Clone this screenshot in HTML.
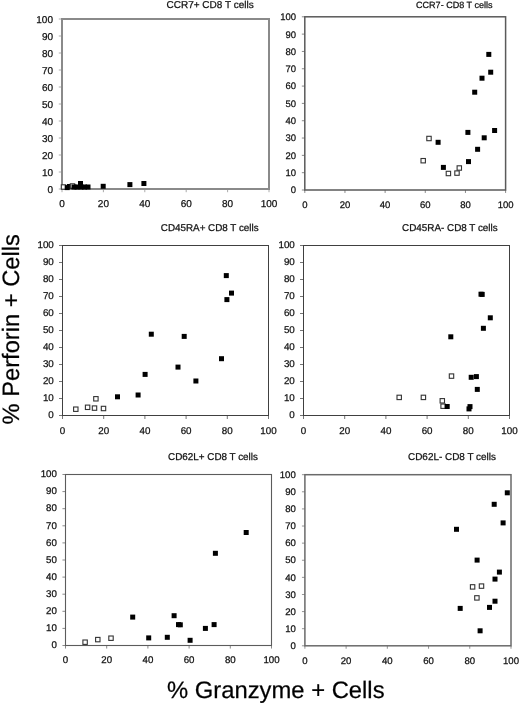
<!DOCTYPE html>
<html><head><meta charset="utf-8"><style>
html,body{margin:0;padding:0;background:#fff;}
body{width:520px;height:704px;overflow:hidden;}
svg{display:block;filter:grayscale(1);text-rendering:geometricPrecision;font-family:"Liberation Sans",sans-serif;fill:#111;}
svg text{fill:#111;stroke:#111;stroke-width:0.25px;}
</style></head><body>
<svg width="520" height="704" viewBox="0 0 520 704">
<rect width="520" height="704" fill="#fff"/>
<rect x="62.0" y="19.0" width="207.00" height="170.00" fill="none" stroke="#8a8a8a" stroke-width="2.0"/>
<line x1="58.80" y1="189.00" x2="62.00" y2="189.00" stroke="#8a8a8a" stroke-width="0.9" opacity="0.8"/>
<line x1="58.80" y1="172.00" x2="62.00" y2="172.00" stroke="#8a8a8a" stroke-width="0.9" opacity="0.8"/>
<line x1="58.80" y1="155.00" x2="62.00" y2="155.00" stroke="#8a8a8a" stroke-width="0.9" opacity="0.8"/>
<line x1="58.80" y1="138.00" x2="62.00" y2="138.00" stroke="#8a8a8a" stroke-width="0.9" opacity="0.8"/>
<line x1="58.80" y1="121.00" x2="62.00" y2="121.00" stroke="#8a8a8a" stroke-width="0.9" opacity="0.8"/>
<line x1="58.80" y1="104.00" x2="62.00" y2="104.00" stroke="#8a8a8a" stroke-width="0.9" opacity="0.8"/>
<line x1="58.80" y1="87.00" x2="62.00" y2="87.00" stroke="#8a8a8a" stroke-width="0.9" opacity="0.8"/>
<line x1="58.80" y1="70.00" x2="62.00" y2="70.00" stroke="#8a8a8a" stroke-width="0.9" opacity="0.8"/>
<line x1="58.80" y1="53.00" x2="62.00" y2="53.00" stroke="#8a8a8a" stroke-width="0.9" opacity="0.8"/>
<line x1="58.80" y1="36.00" x2="62.00" y2="36.00" stroke="#8a8a8a" stroke-width="0.9" opacity="0.8"/>
<line x1="58.80" y1="19.00" x2="62.00" y2="19.00" stroke="#8a8a8a" stroke-width="0.9" opacity="0.8"/>
<line x1="62.00" y1="189.00" x2="62.00" y2="192.20" stroke="#8a8a8a" stroke-width="0.9" opacity="0.8"/>
<line x1="103.40" y1="189.00" x2="103.40" y2="192.20" stroke="#8a8a8a" stroke-width="0.9" opacity="0.8"/>
<line x1="144.80" y1="189.00" x2="144.80" y2="192.20" stroke="#8a8a8a" stroke-width="0.9" opacity="0.8"/>
<line x1="186.20" y1="189.00" x2="186.20" y2="192.20" stroke="#8a8a8a" stroke-width="0.9" opacity="0.8"/>
<line x1="227.60" y1="189.00" x2="227.60" y2="192.20" stroke="#8a8a8a" stroke-width="0.9" opacity="0.8"/>
<line x1="269.00" y1="189.00" x2="269.00" y2="192.20" stroke="#8a8a8a" stroke-width="0.9" opacity="0.8"/>
<text x="53.00" y="192.78" font-size="10.0" text-anchor="end">0</text>
<text x="53.00" y="175.78" font-size="10.0" text-anchor="end">10</text>
<text x="53.00" y="158.78" font-size="10.0" text-anchor="end">20</text>
<text x="53.00" y="141.78" font-size="10.0" text-anchor="end">30</text>
<text x="53.00" y="124.78" font-size="10.0" text-anchor="end">40</text>
<text x="53.00" y="107.78" font-size="10.0" text-anchor="end">50</text>
<text x="53.00" y="90.78" font-size="10.0" text-anchor="end">60</text>
<text x="53.00" y="73.78" font-size="10.0" text-anchor="end">70</text>
<text x="53.00" y="56.78" font-size="10.0" text-anchor="end">80</text>
<text x="53.00" y="39.78" font-size="10.0" text-anchor="end">90</text>
<text x="53.00" y="22.78" font-size="10.0" text-anchor="end">100</text>
<text x="62.00" y="207.30" font-size="10.0" text-anchor="middle">0</text>
<text x="103.40" y="207.30" font-size="10.0" text-anchor="middle">20</text>
<text x="144.80" y="207.30" font-size="10.0" text-anchor="middle">40</text>
<text x="186.20" y="207.30" font-size="10.0" text-anchor="middle">60</text>
<text x="227.60" y="207.30" font-size="10.0" text-anchor="middle">80</text>
<text x="269.00" y="207.30" font-size="10.0" text-anchor="middle">100</text>
<text x="166.5" y="8.3" font-size="10.0">CCR7+ CD8 T cells</text>
<rect x="61.30" y="184.80" width="4.4" height="4.4" fill="#fff" stroke="#333" stroke-width="1.1"/>
<rect x="64.70" y="185.10" width="5" height="5" fill="#000"/>
<rect x="67.00" y="184.00" width="5" height="5" fill="#000"/>
<rect x="70.30" y="183.80" width="4.4" height="4.4" fill="#fff" stroke="#333" stroke-width="1.1"/>
<rect x="71.50" y="184.50" width="5" height="5" fill="#000"/>
<rect x="74.50" y="184.50" width="5" height="5" fill="#000"/>
<rect x="78.00" y="181.00" width="5" height="5" fill="#000"/>
<rect x="78.50" y="184.50" width="5" height="5" fill="#000"/>
<rect x="82.00" y="184.50" width="5" height="5" fill="#000"/>
<rect x="85.50" y="184.50" width="5" height="5" fill="#000"/>
<rect x="100.70" y="183.80" width="5" height="5" fill="#000"/>
<rect x="127.40" y="182.10" width="5" height="5" fill="#000"/>
<rect x="141.40" y="181.00" width="5" height="5" fill="#000"/>
<rect x="304.8" y="16.8" width="200.80" height="173.20" fill="none" stroke="#5a5a5a" stroke-width="1.5"/>
<line x1="301.85" y1="190.00" x2="304.80" y2="190.00" stroke="#5a5a5a" stroke-width="0.9" opacity="0.8"/>
<line x1="301.85" y1="172.68" x2="304.80" y2="172.68" stroke="#5a5a5a" stroke-width="0.9" opacity="0.8"/>
<line x1="301.85" y1="155.36" x2="304.80" y2="155.36" stroke="#5a5a5a" stroke-width="0.9" opacity="0.8"/>
<line x1="301.85" y1="138.04" x2="304.80" y2="138.04" stroke="#5a5a5a" stroke-width="0.9" opacity="0.8"/>
<line x1="301.85" y1="120.72" x2="304.80" y2="120.72" stroke="#5a5a5a" stroke-width="0.9" opacity="0.8"/>
<line x1="301.85" y1="103.40" x2="304.80" y2="103.40" stroke="#5a5a5a" stroke-width="0.9" opacity="0.8"/>
<line x1="301.85" y1="86.08" x2="304.80" y2="86.08" stroke="#5a5a5a" stroke-width="0.9" opacity="0.8"/>
<line x1="301.85" y1="68.76" x2="304.80" y2="68.76" stroke="#5a5a5a" stroke-width="0.9" opacity="0.8"/>
<line x1="301.85" y1="51.44" x2="304.80" y2="51.44" stroke="#5a5a5a" stroke-width="0.9" opacity="0.8"/>
<line x1="301.85" y1="34.12" x2="304.80" y2="34.12" stroke="#5a5a5a" stroke-width="0.9" opacity="0.8"/>
<line x1="301.85" y1="16.80" x2="304.80" y2="16.80" stroke="#5a5a5a" stroke-width="0.9" opacity="0.8"/>
<line x1="304.80" y1="190.00" x2="304.80" y2="192.95" stroke="#5a5a5a" stroke-width="0.9" opacity="0.8"/>
<line x1="344.96" y1="190.00" x2="344.96" y2="192.95" stroke="#5a5a5a" stroke-width="0.9" opacity="0.8"/>
<line x1="385.12" y1="190.00" x2="385.12" y2="192.95" stroke="#5a5a5a" stroke-width="0.9" opacity="0.8"/>
<line x1="425.28" y1="190.00" x2="425.28" y2="192.95" stroke="#5a5a5a" stroke-width="0.9" opacity="0.8"/>
<line x1="465.44" y1="190.00" x2="465.44" y2="192.95" stroke="#5a5a5a" stroke-width="0.9" opacity="0.8"/>
<line x1="505.60" y1="190.00" x2="505.60" y2="192.95" stroke="#5a5a5a" stroke-width="0.9" opacity="0.8"/>
<text x="296.00" y="193.40" font-size="9.5" text-anchor="end">0</text>
<text x="296.00" y="176.08" font-size="9.5" text-anchor="end">10</text>
<text x="296.00" y="158.76" font-size="9.5" text-anchor="end">20</text>
<text x="296.00" y="141.44" font-size="9.5" text-anchor="end">30</text>
<text x="296.00" y="124.12" font-size="9.5" text-anchor="end">40</text>
<text x="296.00" y="106.80" font-size="9.5" text-anchor="end">50</text>
<text x="296.00" y="89.48" font-size="9.5" text-anchor="end">60</text>
<text x="296.00" y="72.16" font-size="9.5" text-anchor="end">70</text>
<text x="296.00" y="54.84" font-size="9.5" text-anchor="end">80</text>
<text x="296.00" y="37.52" font-size="9.5" text-anchor="end">90</text>
<text x="296.00" y="20.20" font-size="9.5" text-anchor="end">100</text>
<text x="304.80" y="207.70" font-size="9.5" text-anchor="middle">0</text>
<text x="344.96" y="207.70" font-size="9.5" text-anchor="middle">20</text>
<text x="385.12" y="207.70" font-size="9.5" text-anchor="middle">40</text>
<text x="425.28" y="207.70" font-size="9.5" text-anchor="middle">60</text>
<text x="465.44" y="207.70" font-size="9.5" text-anchor="middle">80</text>
<text x="505.60" y="207.70" font-size="9.5" text-anchor="middle">100</text>
<text x="416.0" y="8.0" font-size="9.05">CCR7- CD8 T cells</text>
<rect x="486.30" y="51.90" width="5" height="5" fill="#000"/>
<rect x="488.20" y="69.70" width="5" height="5" fill="#000"/>
<rect x="479.50" y="75.70" width="5" height="5" fill="#000"/>
<rect x="472.20" y="89.70" width="5" height="5" fill="#000"/>
<rect x="465.40" y="129.90" width="5" height="5" fill="#000"/>
<rect x="492.10" y="128.00" width="5" height="5" fill="#000"/>
<rect x="481.70" y="135.30" width="5" height="5" fill="#000"/>
<rect x="435.60" y="139.80" width="5" height="5" fill="#000"/>
<rect x="475.10" y="146.80" width="5" height="5" fill="#000"/>
<rect x="466.00" y="159.10" width="5" height="5" fill="#000"/>
<rect x="440.90" y="164.90" width="5" height="5" fill="#000"/>
<rect x="426.80" y="136.30" width="4.4" height="4.4" fill="#fff" stroke="#333" stroke-width="1.1"/>
<rect x="421.00" y="158.50" width="4.4" height="4.4" fill="#fff" stroke="#333" stroke-width="1.1"/>
<rect x="446.20" y="171.30" width="4.4" height="4.4" fill="#fff" stroke="#333" stroke-width="1.1"/>
<rect x="454.80" y="170.90" width="4.4" height="4.4" fill="#fff" stroke="#333" stroke-width="1.1"/>
<rect x="457.10" y="165.80" width="4.4" height="4.4" fill="#fff" stroke="#333" stroke-width="1.1"/>
<rect x="62.5" y="245.5" width="206.00" height="170.00" fill="none" stroke="#404040" stroke-width="1.0"/>
<line x1="59.00" y1="415.50" x2="62.50" y2="415.50" stroke="#404040" stroke-width="0.9" opacity="0.8"/>
<line x1="59.00" y1="398.50" x2="62.50" y2="398.50" stroke="#404040" stroke-width="0.9" opacity="0.8"/>
<line x1="59.00" y1="381.50" x2="62.50" y2="381.50" stroke="#404040" stroke-width="0.9" opacity="0.8"/>
<line x1="59.00" y1="364.50" x2="62.50" y2="364.50" stroke="#404040" stroke-width="0.9" opacity="0.8"/>
<line x1="59.00" y1="347.50" x2="62.50" y2="347.50" stroke="#404040" stroke-width="0.9" opacity="0.8"/>
<line x1="59.00" y1="330.50" x2="62.50" y2="330.50" stroke="#404040" stroke-width="0.9" opacity="0.8"/>
<line x1="59.00" y1="313.50" x2="62.50" y2="313.50" stroke="#404040" stroke-width="0.9" opacity="0.8"/>
<line x1="59.00" y1="296.50" x2="62.50" y2="296.50" stroke="#404040" stroke-width="0.9" opacity="0.8"/>
<line x1="59.00" y1="279.50" x2="62.50" y2="279.50" stroke="#404040" stroke-width="0.9" opacity="0.8"/>
<line x1="59.00" y1="262.50" x2="62.50" y2="262.50" stroke="#404040" stroke-width="0.9" opacity="0.8"/>
<line x1="59.00" y1="245.50" x2="62.50" y2="245.50" stroke="#404040" stroke-width="0.9" opacity="0.8"/>
<line x1="62.50" y1="415.50" x2="62.50" y2="419.00" stroke="#404040" stroke-width="0.9" opacity="0.8"/>
<line x1="103.70" y1="415.50" x2="103.70" y2="419.00" stroke="#404040" stroke-width="0.9" opacity="0.8"/>
<line x1="144.90" y1="415.50" x2="144.90" y2="419.00" stroke="#404040" stroke-width="0.9" opacity="0.8"/>
<line x1="186.10" y1="415.50" x2="186.10" y2="419.00" stroke="#404040" stroke-width="0.9" opacity="0.8"/>
<line x1="227.30" y1="415.50" x2="227.30" y2="419.00" stroke="#404040" stroke-width="0.9" opacity="0.8"/>
<line x1="268.50" y1="415.50" x2="268.50" y2="419.00" stroke="#404040" stroke-width="0.9" opacity="0.8"/>
<text x="53.80" y="418.21" font-size="9.8" text-anchor="end">0</text>
<text x="53.80" y="401.21" font-size="9.8" text-anchor="end">10</text>
<text x="53.80" y="384.21" font-size="9.8" text-anchor="end">20</text>
<text x="53.80" y="367.21" font-size="9.8" text-anchor="end">30</text>
<text x="53.80" y="350.21" font-size="9.8" text-anchor="end">40</text>
<text x="53.80" y="333.21" font-size="9.8" text-anchor="end">50</text>
<text x="53.80" y="316.21" font-size="9.8" text-anchor="end">60</text>
<text x="53.80" y="299.21" font-size="9.8" text-anchor="end">70</text>
<text x="53.80" y="282.21" font-size="9.8" text-anchor="end">80</text>
<text x="53.80" y="265.21" font-size="9.8" text-anchor="end">90</text>
<text x="53.80" y="248.21" font-size="9.8" text-anchor="end">100</text>
<text x="62.50" y="433.50" font-size="9.8" text-anchor="middle">0</text>
<text x="103.70" y="433.50" font-size="9.8" text-anchor="middle">20</text>
<text x="144.90" y="433.50" font-size="9.8" text-anchor="middle">40</text>
<text x="186.10" y="433.50" font-size="9.8" text-anchor="middle">60</text>
<text x="227.30" y="433.50" font-size="9.8" text-anchor="middle">80</text>
<text x="268.50" y="433.50" font-size="9.8" text-anchor="middle">100</text>
<text x="160.8" y="231.2" font-size="9.85">CD45RA+ CD8 T cells</text>
<rect x="223.80" y="273.10" width="5" height="5" fill="#000"/>
<rect x="229.00" y="290.60" width="5" height="5" fill="#000"/>
<rect x="224.40" y="297.10" width="5" height="5" fill="#000"/>
<rect x="148.80" y="331.70" width="5" height="5" fill="#000"/>
<rect x="181.70" y="333.90" width="5" height="5" fill="#000"/>
<rect x="219.00" y="356.20" width="5" height="5" fill="#000"/>
<rect x="175.50" y="364.60" width="5" height="5" fill="#000"/>
<rect x="142.60" y="371.90" width="5" height="5" fill="#000"/>
<rect x="193.40" y="378.50" width="5" height="5" fill="#000"/>
<rect x="135.60" y="392.50" width="5" height="5" fill="#000"/>
<rect x="115.00" y="394.30" width="5" height="5" fill="#000"/>
<rect x="73.60" y="407.00" width="4.4" height="4.4" fill="#fff" stroke="#333" stroke-width="1.1"/>
<rect x="85.40" y="405.10" width="4.4" height="4.4" fill="#fff" stroke="#333" stroke-width="1.1"/>
<rect x="92.30" y="405.90" width="4.4" height="4.4" fill="#fff" stroke="#333" stroke-width="1.1"/>
<rect x="101.30" y="406.30" width="4.4" height="4.4" fill="#fff" stroke="#333" stroke-width="1.1"/>
<rect x="93.70" y="396.60" width="4.4" height="4.4" fill="#fff" stroke="#333" stroke-width="1.1"/>
<rect x="303.5" y="245.5" width="206.00" height="170.00" fill="none" stroke="#404040" stroke-width="1.0"/>
<line x1="300.00" y1="415.50" x2="303.50" y2="415.50" stroke="#404040" stroke-width="0.9" opacity="0.8"/>
<line x1="300.00" y1="398.50" x2="303.50" y2="398.50" stroke="#404040" stroke-width="0.9" opacity="0.8"/>
<line x1="300.00" y1="381.50" x2="303.50" y2="381.50" stroke="#404040" stroke-width="0.9" opacity="0.8"/>
<line x1="300.00" y1="364.50" x2="303.50" y2="364.50" stroke="#404040" stroke-width="0.9" opacity="0.8"/>
<line x1="300.00" y1="347.50" x2="303.50" y2="347.50" stroke="#404040" stroke-width="0.9" opacity="0.8"/>
<line x1="300.00" y1="330.50" x2="303.50" y2="330.50" stroke="#404040" stroke-width="0.9" opacity="0.8"/>
<line x1="300.00" y1="313.50" x2="303.50" y2="313.50" stroke="#404040" stroke-width="0.9" opacity="0.8"/>
<line x1="300.00" y1="296.50" x2="303.50" y2="296.50" stroke="#404040" stroke-width="0.9" opacity="0.8"/>
<line x1="300.00" y1="279.50" x2="303.50" y2="279.50" stroke="#404040" stroke-width="0.9" opacity="0.8"/>
<line x1="300.00" y1="262.50" x2="303.50" y2="262.50" stroke="#404040" stroke-width="0.9" opacity="0.8"/>
<line x1="300.00" y1="245.50" x2="303.50" y2="245.50" stroke="#404040" stroke-width="0.9" opacity="0.8"/>
<line x1="303.50" y1="415.50" x2="303.50" y2="419.00" stroke="#404040" stroke-width="0.9" opacity="0.8"/>
<line x1="344.70" y1="415.50" x2="344.70" y2="419.00" stroke="#404040" stroke-width="0.9" opacity="0.8"/>
<line x1="385.90" y1="415.50" x2="385.90" y2="419.00" stroke="#404040" stroke-width="0.9" opacity="0.8"/>
<line x1="427.10" y1="415.50" x2="427.10" y2="419.00" stroke="#404040" stroke-width="0.9" opacity="0.8"/>
<line x1="468.30" y1="415.50" x2="468.30" y2="419.00" stroke="#404040" stroke-width="0.9" opacity="0.8"/>
<line x1="509.50" y1="415.50" x2="509.50" y2="419.00" stroke="#404040" stroke-width="0.9" opacity="0.8"/>
<text x="294.80" y="418.21" font-size="9.8" text-anchor="end">0</text>
<text x="294.80" y="401.21" font-size="9.8" text-anchor="end">10</text>
<text x="294.80" y="384.21" font-size="9.8" text-anchor="end">20</text>
<text x="294.80" y="367.21" font-size="9.8" text-anchor="end">30</text>
<text x="294.80" y="350.21" font-size="9.8" text-anchor="end">40</text>
<text x="294.80" y="333.21" font-size="9.8" text-anchor="end">50</text>
<text x="294.80" y="316.21" font-size="9.8" text-anchor="end">60</text>
<text x="294.80" y="299.21" font-size="9.8" text-anchor="end">70</text>
<text x="294.80" y="282.21" font-size="9.8" text-anchor="end">80</text>
<text x="294.80" y="265.21" font-size="9.8" text-anchor="end">90</text>
<text x="294.80" y="248.21" font-size="9.8" text-anchor="end">100</text>
<text x="303.50" y="434.00" font-size="9.8" text-anchor="middle">0</text>
<text x="344.70" y="434.00" font-size="9.8" text-anchor="middle">20</text>
<text x="385.90" y="434.00" font-size="9.8" text-anchor="middle">40</text>
<text x="427.10" y="434.00" font-size="9.8" text-anchor="middle">60</text>
<text x="468.30" y="434.00" font-size="9.8" text-anchor="middle">80</text>
<text x="509.50" y="434.00" font-size="9.8" text-anchor="middle">100</text>
<text x="402.0" y="231.4" font-size="9.9">CD45RA- CD8 T cells</text>
<rect x="478.50" y="291.70" width="5" height="5" fill="#000"/>
<rect x="479.70" y="291.90" width="5" height="5" fill="#000"/>
<rect x="487.80" y="315.30" width="5" height="5" fill="#000"/>
<rect x="480.90" y="325.80" width="5" height="5" fill="#000"/>
<rect x="448.30" y="334.30" width="5" height="5" fill="#000"/>
<rect x="468.70" y="374.80" width="5" height="5" fill="#000"/>
<rect x="473.90" y="374.10" width="5" height="5" fill="#000"/>
<rect x="474.80" y="386.90" width="5" height="5" fill="#000"/>
<rect x="467.50" y="404.10" width="5" height="5" fill="#000"/>
<rect x="466.50" y="406.40" width="5" height="5" fill="#000"/>
<rect x="449.30" y="373.90" width="4.4" height="4.4" fill="#fff" stroke="#333" stroke-width="1.1"/>
<rect x="397.00" y="395.20" width="4.4" height="4.4" fill="#fff" stroke="#333" stroke-width="1.1"/>
<rect x="421.20" y="395.20" width="4.4" height="4.4" fill="#fff" stroke="#333" stroke-width="1.1"/>
<rect x="440.10" y="398.60" width="4.4" height="4.4" fill="#fff" stroke="#333" stroke-width="1.1"/>
<rect x="440.90" y="404.00" width="4.4" height="4.4" fill="#fff" stroke="#333" stroke-width="1.1"/>
<rect x="444.70" y="404.00" width="5" height="5" fill="#000"/>
<rect x="65.5" y="474.5" width="206.00" height="171.00" fill="none" stroke="#5c5c5c" stroke-width="1.1"/>
<line x1="62.45" y1="645.50" x2="65.50" y2="645.50" stroke="#5c5c5c" stroke-width="0.9" opacity="0.8"/>
<line x1="62.45" y1="628.40" x2="65.50" y2="628.40" stroke="#5c5c5c" stroke-width="0.9" opacity="0.8"/>
<line x1="62.45" y1="611.30" x2="65.50" y2="611.30" stroke="#5c5c5c" stroke-width="0.9" opacity="0.8"/>
<line x1="62.45" y1="594.20" x2="65.50" y2="594.20" stroke="#5c5c5c" stroke-width="0.9" opacity="0.8"/>
<line x1="62.45" y1="577.10" x2="65.50" y2="577.10" stroke="#5c5c5c" stroke-width="0.9" opacity="0.8"/>
<line x1="62.45" y1="560.00" x2="65.50" y2="560.00" stroke="#5c5c5c" stroke-width="0.9" opacity="0.8"/>
<line x1="62.45" y1="542.90" x2="65.50" y2="542.90" stroke="#5c5c5c" stroke-width="0.9" opacity="0.8"/>
<line x1="62.45" y1="525.80" x2="65.50" y2="525.80" stroke="#5c5c5c" stroke-width="0.9" opacity="0.8"/>
<line x1="62.45" y1="508.70" x2="65.50" y2="508.70" stroke="#5c5c5c" stroke-width="0.9" opacity="0.8"/>
<line x1="62.45" y1="491.60" x2="65.50" y2="491.60" stroke="#5c5c5c" stroke-width="0.9" opacity="0.8"/>
<line x1="62.45" y1="474.50" x2="65.50" y2="474.50" stroke="#5c5c5c" stroke-width="0.9" opacity="0.8"/>
<line x1="65.50" y1="645.50" x2="65.50" y2="648.55" stroke="#5c5c5c" stroke-width="0.9" opacity="0.8"/>
<line x1="106.70" y1="645.50" x2="106.70" y2="648.55" stroke="#5c5c5c" stroke-width="0.9" opacity="0.8"/>
<line x1="147.90" y1="645.50" x2="147.90" y2="648.55" stroke="#5c5c5c" stroke-width="0.9" opacity="0.8"/>
<line x1="189.10" y1="645.50" x2="189.10" y2="648.55" stroke="#5c5c5c" stroke-width="0.9" opacity="0.8"/>
<line x1="230.30" y1="645.50" x2="230.30" y2="648.55" stroke="#5c5c5c" stroke-width="0.9" opacity="0.8"/>
<line x1="271.50" y1="645.50" x2="271.50" y2="648.55" stroke="#5c5c5c" stroke-width="0.9" opacity="0.8"/>
<text x="56.80" y="648.27" font-size="9.7" text-anchor="end">0</text>
<text x="56.80" y="631.17" font-size="9.7" text-anchor="end">10</text>
<text x="56.80" y="614.07" font-size="9.7" text-anchor="end">20</text>
<text x="56.80" y="596.97" font-size="9.7" text-anchor="end">30</text>
<text x="56.80" y="579.87" font-size="9.7" text-anchor="end">40</text>
<text x="56.80" y="562.77" font-size="9.7" text-anchor="end">50</text>
<text x="56.80" y="545.67" font-size="9.7" text-anchor="end">60</text>
<text x="56.80" y="528.57" font-size="9.7" text-anchor="end">70</text>
<text x="56.80" y="511.47" font-size="9.7" text-anchor="end">80</text>
<text x="56.80" y="494.37" font-size="9.7" text-anchor="end">90</text>
<text x="56.80" y="477.27" font-size="9.7" text-anchor="end">100</text>
<text x="65.50" y="663.30" font-size="9.7" text-anchor="middle">0</text>
<text x="106.70" y="663.30" font-size="9.7" text-anchor="middle">20</text>
<text x="147.90" y="663.30" font-size="9.7" text-anchor="middle">40</text>
<text x="189.10" y="663.30" font-size="9.7" text-anchor="middle">60</text>
<text x="230.30" y="663.30" font-size="9.7" text-anchor="middle">80</text>
<text x="271.50" y="663.30" font-size="9.7" text-anchor="middle">100</text>
<text x="168.0" y="460.0" font-size="9.9">CD62L+ CD8 T cells</text>
<rect x="243.70" y="530.00" width="5" height="5" fill="#000"/>
<rect x="212.90" y="550.80" width="5" height="5" fill="#000"/>
<rect x="130.20" y="614.60" width="5" height="5" fill="#000"/>
<rect x="171.60" y="613.20" width="5" height="5" fill="#000"/>
<rect x="176.00" y="622.10" width="5" height="5" fill="#000"/>
<rect x="177.80" y="622.30" width="5" height="5" fill="#000"/>
<rect x="202.90" y="625.90" width="5" height="5" fill="#000"/>
<rect x="211.60" y="622.10" width="5" height="5" fill="#000"/>
<rect x="146.20" y="635.40" width="5" height="5" fill="#000"/>
<rect x="164.80" y="634.80" width="5" height="5" fill="#000"/>
<rect x="187.60" y="637.80" width="5" height="5" fill="#000"/>
<rect x="82.90" y="640.00" width="4.4" height="4.4" fill="#fff" stroke="#333" stroke-width="1.1"/>
<rect x="95.60" y="637.40" width="4.4" height="4.4" fill="#fff" stroke="#333" stroke-width="1.1"/>
<rect x="108.80" y="636.00" width="4.4" height="4.4" fill="#fff" stroke="#333" stroke-width="1.1"/>
<rect x="304.9" y="474.7" width="206.10" height="171.10" fill="none" stroke="#6a6a6a" stroke-width="1.5"/>
<line x1="301.95" y1="645.80" x2="304.90" y2="645.80" stroke="#6a6a6a" stroke-width="0.9" opacity="0.8"/>
<line x1="301.95" y1="628.69" x2="304.90" y2="628.69" stroke="#6a6a6a" stroke-width="0.9" opacity="0.8"/>
<line x1="301.95" y1="611.58" x2="304.90" y2="611.58" stroke="#6a6a6a" stroke-width="0.9" opacity="0.8"/>
<line x1="301.95" y1="594.47" x2="304.90" y2="594.47" stroke="#6a6a6a" stroke-width="0.9" opacity="0.8"/>
<line x1="301.95" y1="577.36" x2="304.90" y2="577.36" stroke="#6a6a6a" stroke-width="0.9" opacity="0.8"/>
<line x1="301.95" y1="560.25" x2="304.90" y2="560.25" stroke="#6a6a6a" stroke-width="0.9" opacity="0.8"/>
<line x1="301.95" y1="543.14" x2="304.90" y2="543.14" stroke="#6a6a6a" stroke-width="0.9" opacity="0.8"/>
<line x1="301.95" y1="526.03" x2="304.90" y2="526.03" stroke="#6a6a6a" stroke-width="0.9" opacity="0.8"/>
<line x1="301.95" y1="508.92" x2="304.90" y2="508.92" stroke="#6a6a6a" stroke-width="0.9" opacity="0.8"/>
<line x1="301.95" y1="491.81" x2="304.90" y2="491.81" stroke="#6a6a6a" stroke-width="0.9" opacity="0.8"/>
<line x1="301.95" y1="474.70" x2="304.90" y2="474.70" stroke="#6a6a6a" stroke-width="0.9" opacity="0.8"/>
<line x1="304.90" y1="645.80" x2="304.90" y2="648.75" stroke="#6a6a6a" stroke-width="0.9" opacity="0.8"/>
<line x1="346.12" y1="645.80" x2="346.12" y2="648.75" stroke="#6a6a6a" stroke-width="0.9" opacity="0.8"/>
<line x1="387.34" y1="645.80" x2="387.34" y2="648.75" stroke="#6a6a6a" stroke-width="0.9" opacity="0.8"/>
<line x1="428.56" y1="645.80" x2="428.56" y2="648.75" stroke="#6a6a6a" stroke-width="0.9" opacity="0.8"/>
<line x1="469.78" y1="645.80" x2="469.78" y2="648.75" stroke="#6a6a6a" stroke-width="0.9" opacity="0.8"/>
<line x1="511.00" y1="645.80" x2="511.00" y2="648.75" stroke="#6a6a6a" stroke-width="0.9" opacity="0.8"/>
<text x="295.80" y="648.94" font-size="9.6" text-anchor="end">0</text>
<text x="295.80" y="631.83" font-size="9.6" text-anchor="end">10</text>
<text x="295.80" y="614.72" font-size="9.6" text-anchor="end">20</text>
<text x="295.80" y="597.61" font-size="9.6" text-anchor="end">30</text>
<text x="295.80" y="580.50" font-size="9.6" text-anchor="end">40</text>
<text x="295.80" y="563.39" font-size="9.6" text-anchor="end">50</text>
<text x="295.80" y="546.28" font-size="9.6" text-anchor="end">60</text>
<text x="295.80" y="529.17" font-size="9.6" text-anchor="end">70</text>
<text x="295.80" y="512.06" font-size="9.6" text-anchor="end">80</text>
<text x="295.80" y="494.95" font-size="9.6" text-anchor="end">90</text>
<text x="295.80" y="477.84" font-size="9.6" text-anchor="end">100</text>
<text x="304.90" y="663.50" font-size="9.6" text-anchor="middle">0</text>
<text x="346.12" y="663.50" font-size="9.6" text-anchor="middle">20</text>
<text x="387.34" y="663.50" font-size="9.6" text-anchor="middle">40</text>
<text x="428.56" y="663.50" font-size="9.6" text-anchor="middle">60</text>
<text x="469.78" y="663.50" font-size="9.6" text-anchor="middle">80</text>
<text x="511.00" y="663.50" font-size="9.6" text-anchor="middle">100</text>
<text x="408.0" y="460.3" font-size="9.95">CD62L- CD8 T cells</text>
<rect x="504.80" y="490.30" width="5" height="5" fill="#000"/>
<rect x="491.70" y="501.80" width="5" height="5" fill="#000"/>
<rect x="500.60" y="520.40" width="5" height="5" fill="#000"/>
<rect x="454.00" y="526.80" width="5" height="5" fill="#000"/>
<rect x="474.60" y="557.60" width="5" height="5" fill="#000"/>
<rect x="496.90" y="569.60" width="5" height="5" fill="#000"/>
<rect x="492.50" y="576.60" width="5" height="5" fill="#000"/>
<rect x="492.50" y="598.70" width="5" height="5" fill="#000"/>
<rect x="487.00" y="604.90" width="5" height="5" fill="#000"/>
<rect x="457.70" y="605.90" width="5" height="5" fill="#000"/>
<rect x="477.60" y="628.30" width="5" height="5" fill="#000"/>
<rect x="470.40" y="584.70" width="4.4" height="4.4" fill="#fff" stroke="#333" stroke-width="1.1"/>
<rect x="479.30" y="583.90" width="4.4" height="4.4" fill="#fff" stroke="#333" stroke-width="1.1"/>
<rect x="474.70" y="595.70" width="4.4" height="4.4" fill="#fff" stroke="#333" stroke-width="1.1"/>
<text x="167.0" y="697.6" font-size="23.8" style="fill:#000">% Granzyme + Cells</text>
<text transform="translate(18.6,424.4) rotate(-90)" x="0" y="0" font-size="23.7" style="fill:#000">% Perforin + Cells</text>
</svg>
</body></html>
